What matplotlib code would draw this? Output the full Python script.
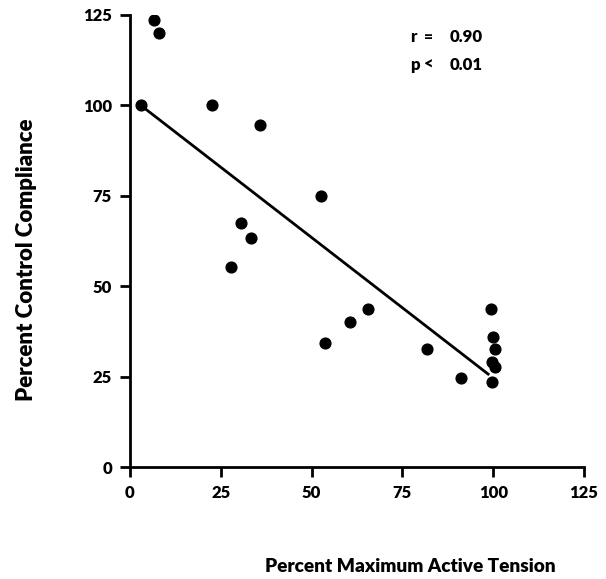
import numpy as np
import matplotlib
matplotlib.use('Agg')
import matplotlib.pyplot as plt

plt.rcParams['font.family'] = ['Lato', 'DejaVu Sans']
plt.rcParams['font.weight'] = 'heavy'

# percent maximum active tension vs percent control compliance
tension = [6.6, 8.0, 3.0, 22.6, 35.8, 52.6, 30.6, 33.3, 27.8, 65.6, 60.6,
           53.7, 81.8, 91.2, 99.4, 100.0, 100.5, 99.8, 100.5, 99.6]
compliance = [123.7, 119.9, 100.0, 100.0, 94.5, 74.9, 67.4, 63.3, 55.2, 43.6, 40.0,
              34.3, 32.6, 24.6, 43.6, 35.9, 32.6, 29.0, 27.6, 23.5]
fit_x = [3.0, 98.6]
fit_y = [100.0, 25.7]
ticks = [0, 25, 50, 75, 100, 125]

fig = plt.figure(figsize=(6.06, 5.79), dpi=100)
ax = fig.add_axes([0.2145, 0.1934, 0.7492, 0.7807])

ax.plot(fit_x, fit_y, color='black', lw=2)
ax.scatter(tension, compliance, color='black', s=60, zorder=3)

ax.set_xlim(0, 125)
ax.set_ylim(0, 125)
ax.set_xticks(ticks)
ax.set_yticks(ticks)
ax.spines['top'].set_visible(False)
ax.spines['right'].set_visible(False)
ax.spines['left'].set_linewidth(2)
ax.spines['bottom'].set_linewidth(2)
ax.tick_params(direction='out', length=7, width=2, labelsize=12, pad=6)
for lab in ax.get_xticklabels() + ax.get_yticklabels():
    lab.set_fontweight('heavy')

ax.text(77, 118.8, 'r', fontsize=12, fontweight='heavy', va='center')
ax.text(81, 118.8, '=', fontsize=11, va='center')
ax.text(88, 118.8, '0.90', fontsize=12, fontweight='heavy', va='center')
ax.text(77, 111.2, 'p', fontsize=12, fontweight='heavy', va='center')
ax.text(81, 111.2, '<', fontsize=12, fontweight='heavy', va='center')
ax.text(88, 111.2, '0.01', fontsize=12, fontweight='heavy', va='center')

fig.text(410 / 606, 1 - 566 / 579, 'Percent Maximum Active Tension',
         fontsize=13.7, fontweight='heavy', ha='center', va='center')
fig.text(27 / 606, 1 - 260 / 579, 'Percent Control Compliance',
         fontsize=16, fontweight='heavy', ha='center', va='center', rotation=90)

plt.savefig('out.png', dpi=100)
